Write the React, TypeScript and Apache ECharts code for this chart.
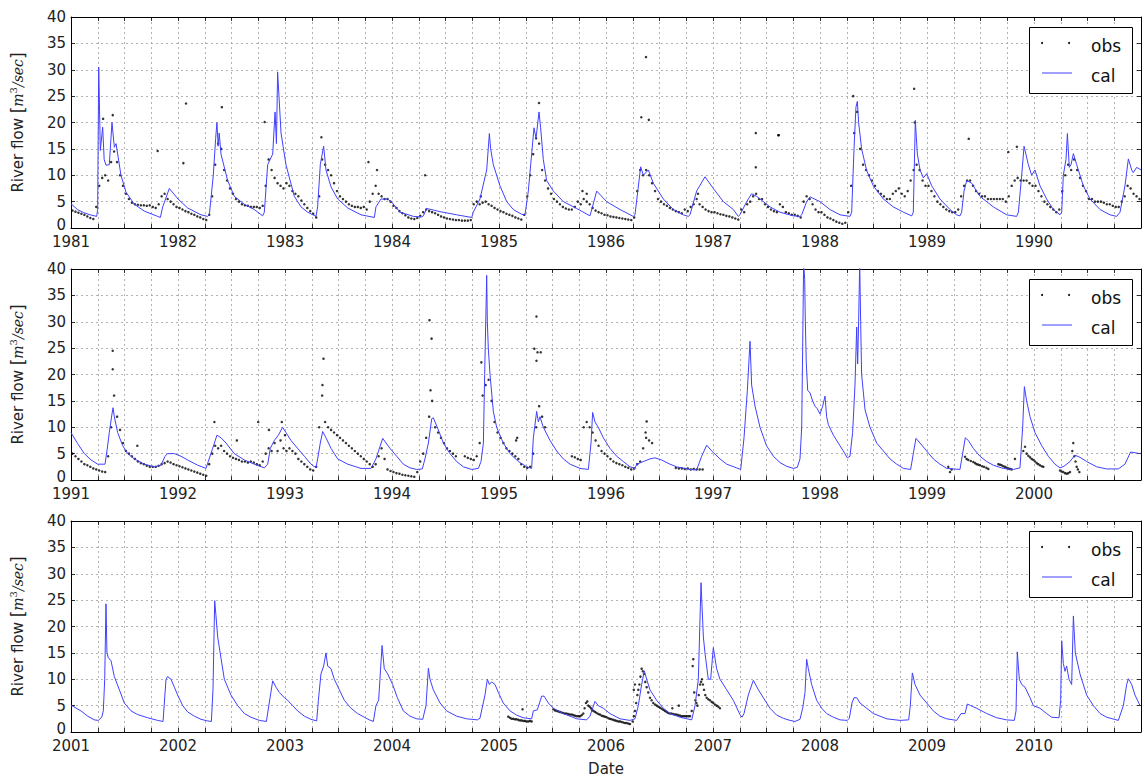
import React, { useEffect, useRef } from "react";
import * as echarts from "echarts";

// ---------------- data ----------------
const START_YEARS = [1981, 1991, 2001];
const Y_MIN = 0;
const Y_MAX = 40;
const Y_STEP = 5;
const X_STEP = 0.25; // quarter-year grid
const SERIES_NAMES = ["obs", "cal"];
const X_LABEL = "Date";

// simulated flow ("cal") — key points [decimal year, m3/s]
const cal1 = [
  [1981.0, 4.6], [1981.06, 3.5], [1981.12, 2.9], [1981.18, 2.5], [1981.24, 2.2], [1981.249, 3.5],
  [1981.259, 30.5], [1981.274, 14.7], [1981.296, 19.1], [1981.31, 13], [1981.327, 11.9], [1981.358, 12.0],
  [1981.383, 20.0], [1981.405, 15.3], [1981.421, 16.0], [1981.467, 10.0], [1981.514, 6.8], [1981.592, 4.5],
  [1981.685, 3.2], [1981.81, 2.2], [1981.835, 2.0], [1981.857, 4.0], [1981.919, 7.5], [1982.0, 5.5],
  [1982.09, 3.8], [1982.215, 2.5], [1982.277, 2.2], [1982.293, 2.5], [1982.33, 10], [1982.352, 17],
  [1982.364, 20.0], [1982.375, 15.5], [1982.385, 18], [1982.402, 14.0], [1982.464, 9.0], [1982.526, 6.0],
  [1982.62, 4.5], [1982.713, 3.5], [1982.791, 2.3], [1982.807, 3], [1982.838, 12], [1982.885, 14],
  [1982.907, 22], [1982.92, 16], [1982.931, 29.6], [1982.963, 18], [1983.009, 12], [1983.087, 6],
  [1983.15, 4], [1983.212, 3], [1983.29, 2.2], [1983.305, 4], [1983.33, 12], [1983.361, 15.5],
  [1983.383, 11], [1983.43, 7.8], [1983.492, 5.5], [1983.586, 3.8], [1983.71, 2.5], [1983.835, 2.0],
  [1983.85, 4.0], [1983.897, 5.5], [1983.96, 5.5], [1984.0, 4.8], [1984.075, 3.0], [1984.2, 2.2],
  [1984.277, 2.1], [1984.293, 2.3], [1984.324, 3.7], [1984.449, 3.1], [1984.604, 2.5], [1984.745, 2.0],
  [1984.76, 3.0], [1984.822, 5.5], [1984.885, 11], [1984.91, 17.9], [1984.922, 15], [1984.947, 12],
  [1985.009, 8], [1985.072, 5], [1985.134, 3.5], [1985.212, 2.6], [1985.243, 2.5], [1985.274, 7],
  [1985.296, 12], [1985.327, 19], [1985.346, 17], [1985.374, 22], [1985.389, 19], [1985.414, 13],
  [1985.445, 9], [1985.508, 7], [1985.601, 5], [1985.726, 3.7], [1985.85, 2.3], [1985.86, 3.0],
  [1985.913, 7], [1986.006, 5], [1986.131, 3.5], [1986.255, 2.2], [1986.271, 2.5], [1986.324, 11.6],
  [1986.349, 10], [1986.396, 11], [1986.442, 8.5], [1986.536, 5.5], [1986.629, 3.5], [1986.723, 2.5],
  [1986.769, 2.2], [1986.785, 2.5], [1986.847, 7], [1986.925, 9.7], [1987.003, 7.5], [1987.097, 5],
  [1987.19, 3.5], [1987.237, 2.2], [1987.252, 2.5], [1987.315, 5], [1987.361, 6.5], [1987.408, 6.0],
  [1987.439, 5.5], [1987.533, 4], [1987.626, 3], [1987.751, 2.3], [1987.813, 2.2], [1987.829, 2.5],
  [1987.875, 5], [1987.907, 5.9], [1988.0, 5], [1988.093, 3.5], [1988.187, 2.5], [1988.28, 2.2],
  [1988.296, 3], [1988.318, 15], [1988.336, 22.9], [1988.349, 24], [1988.361, 20], [1988.389, 15],
  [1988.436, 10.9], [1988.498, 8], [1988.592, 5.5], [1988.685, 4], [1988.779, 3], [1988.857, 2.3],
  [1988.872, 3], [1988.891, 20.4], [1988.91, 14], [1988.935, 11], [1988.966, 9.5], [1988.997, 10.3],
  [1989.044, 8], [1989.121, 5.5], [1989.215, 3.5], [1989.277, 2.5], [1989.308, 2.3], [1989.324, 3],
  [1989.346, 7], [1989.371, 9], [1989.417, 8.5], [1989.495, 6], [1989.62, 4], [1989.745, 2.5],
  [1989.838, 2.2], [1989.854, 3], [1989.885, 10], [1989.907, 15.5], [1989.947, 12], [1989.978, 10],
  [1990.009, 11], [1990.056, 8], [1990.118, 5.5], [1990.181, 3.5], [1990.243, 2.5], [1990.259, 3],
  [1990.274, 10], [1990.299, 13], [1990.312, 17.9], [1990.33, 11.5], [1990.346, 12], [1990.368, 14.1],
  [1990.399, 12], [1990.461, 8], [1990.523, 5.5], [1990.617, 3.5], [1990.71, 2.5], [1990.773, 2.2],
  [1990.804, 3], [1990.85, 8], [1990.882, 13.1], [1990.913, 11], [1990.928, 10.5], [1990.96, 11.5],
  [1991.0, 11],
];

const cal2 = [
  [1991.0, 9.0], [1991.062, 6.9], [1991.125, 5.0], [1991.187, 3.8], [1991.249, 3.0], [1991.318, 3.0],
  [1991.336, 5.5], [1991.358, 9], [1991.383, 12.5], [1991.393, 13.7], [1991.405, 12], [1991.436, 9],
  [1991.483, 6.5], [1991.53, 5.0], [1991.592, 4.0], [1991.685, 3.0], [1991.779, 2.5], [1991.841, 2.8],
  [1991.879, 4.5], [1991.903, 5.0], [1991.966, 5.0], [1992.028, 4.5], [1992.09, 3.8], [1992.184, 2.8],
  [1992.262, 2.2], [1992.283, 3.5], [1992.324, 6], [1992.364, 8.5], [1992.402, 8.0], [1992.449, 7.0],
  [1992.526, 5.0], [1992.62, 3.8], [1992.713, 3.0], [1992.807, 2.3], [1992.838, 3.0], [1992.863, 6],
  [1992.9, 7.5], [1992.938, 8.5], [1992.978, 10.0], [1993.009, 9.0], [1993.056, 7.5], [1993.118, 6.0],
  [1993.181, 4.5], [1993.243, 3.0], [1993.29, 2.3], [1993.305, 4], [1993.33, 7], [1993.352, 9.2],
  [1993.383, 8.0], [1993.43, 6.0], [1993.492, 4.0], [1993.586, 3.0], [1993.71, 2.2], [1993.804, 2.2],
  [1993.85, 4], [1993.913, 7.9], [1993.981, 6.0], [1994.044, 4.5], [1994.106, 3.0], [1994.168, 2.3],
  [1994.231, 2.0], [1994.283, 2.1], [1994.308, 4], [1994.34, 7], [1994.371, 11.6], [1994.386, 11.8],
  [1994.433, 9.5], [1994.48, 7.0], [1994.542, 5.0], [1994.604, 3.5], [1994.667, 2.5], [1994.745, 2.0],
  [1994.807, 2.2], [1994.832, 3.5], [1994.854, 7], [1994.866, 20], [1994.885, 38.8], [1994.891, 30],
  [1994.9, 25], [1994.916, 20], [1994.947, 13], [1994.978, 10], [1995.04, 7], [1995.103, 5],
  [1995.181, 3.5], [1995.259, 2.5], [1995.305, 2.2], [1995.321, 8], [1995.352, 13], [1995.368, 11],
  [1995.383, 12], [1995.414, 10], [1995.477, 7.5], [1995.539, 5.5], [1995.601, 4.0], [1995.664, 3.0],
  [1995.757, 2.2], [1995.835, 2.0], [1995.86, 7], [1995.875, 12.8], [1995.897, 11], [1995.928, 10],
  [1995.975, 8], [1996.037, 6], [1996.1, 4.5], [1996.162, 3.5], [1996.224, 2.5], [1996.271, 2.2],
  [1996.287, 3.0], [1996.349, 3.5], [1996.411, 4.0], [1996.458, 4.2], [1996.52, 3.8], [1996.598, 3.0],
  [1996.66, 2.5], [1996.785, 2.0], [1996.847, 1.9], [1996.894, 4.5], [1996.941, 6.6], [1996.988, 5.5],
  [1997.065, 4.0], [1997.128, 3.0], [1997.221, 2.3], [1997.259, 2.0], [1997.29, 8], [1997.321, 17],
  [1997.346, 26.3], [1997.361, 18], [1997.393, 14], [1997.439, 10], [1997.5, 6.5], [1997.564, 4.5],
  [1997.626, 3.3], [1997.688, 2.6], [1997.751, 2.2], [1997.788, 2.4], [1997.813, 4], [1997.829, 10],
  [1997.838, 25], [1997.847, 41], [1997.857, 38], [1997.863, 30], [1997.872, 22], [1997.885, 17],
  [1997.907, 16.5], [1997.931, 15], [1997.953, 14], [1997.975, 13.5], [1998.0, 12.5], [1998.025, 14],
  [1998.047, 15.9], [1998.062, 12], [1998.078, 10.5], [1998.125, 8.5], [1998.171, 7], [1998.218, 5.5],
  [1998.255, 4.2], [1998.28, 4.5], [1998.305, 9], [1998.327, 18], [1998.343, 29], [1998.352, 22],
  [1998.361, 30], [1998.371, 41], [1998.38, 30], [1998.389, 20], [1998.421, 13.3], [1998.467, 10],
  [1998.53, 7], [1998.592, 5.5], [1998.654, 4], [1998.717, 3.0], [1998.779, 2.2], [1998.847, 2.0],
  [1998.872, 5], [1998.897, 7.9], [1998.935, 7.0], [1998.997, 5.5], [1999.059, 4.0], [1999.121, 3.0],
  [1999.184, 2.2], [1999.308, 2.0], [1999.333, 5], [1999.358, 8], [1999.386, 7.5], [1999.433, 6],
  [1999.495, 4.5], [1999.558, 3.5], [1999.62, 2.8], [1999.713, 2.2], [1999.807, 2.0], [1999.869, 2.3],
  [1999.894, 10], [1999.91, 17.7], [1999.931, 15], [1999.963, 12], [2000.009, 9], [2000.072, 6.5],
  [2000.134, 4.5], [2000.196, 3.0], [2000.243, 2.3], [2000.28, 2.6], [2000.336, 3.5], [2000.383, 4.7],
  [2000.43, 4.3], [2000.492, 3.5], [2000.586, 2.5], [2000.679, 2.1], [2000.788, 2.1], [2000.85, 3],
  [2000.903, 5.3], [2000.991, 5.0],
];

const cal3 = [
  [2001.0, 5.0], [2001.016, 4.9], [2001.093, 4.0], [2001.156, 3.0], [2001.218, 2.3], [2001.255, 2.2],
  [2001.287, 2.8], [2001.302, 4.0], [2001.315, 10], [2001.327, 24.3], [2001.336, 15], [2001.349, 14.1],
  [2001.374, 13.5], [2001.405, 10.5], [2001.452, 8], [2001.498, 5.5], [2001.561, 4.0], [2001.623, 3.3],
  [2001.717, 2.7], [2001.81, 2.2], [2001.86, 2.0], [2001.888, 10.0], [2001.903, 10.5], [2001.935, 10.0],
  [2001.966, 8.5], [2001.997, 7.0], [2002.044, 5.0], [2002.09, 3.8], [2002.153, 3.0], [2002.215, 2.4],
  [2002.277, 2.1], [2002.312, 2.0], [2002.327, 8], [2002.343, 24.9], [2002.355, 22], [2002.371, 18],
  [2002.402, 14], [2002.433, 10], [2002.495, 7], [2002.558, 5], [2002.62, 3.5], [2002.682, 2.8],
  [2002.76, 2.2], [2002.826, 2.0], [2002.885, 9.7], [2002.916, 8.5], [2002.947, 7.5], [2002.994, 6.5],
  [2003.025, 6.0], [2003.072, 5.0], [2003.118, 4.0], [2003.181, 3.0], [2003.243, 2.4], [2003.296, 2.1],
  [2003.312, 6], [2003.336, 11], [2003.361, 12.5], [2003.383, 15], [2003.399, 12.5], [2003.43, 12],
  [2003.461, 10], [2003.508, 8], [2003.555, 6], [2003.617, 4.5], [2003.679, 3.5], [2003.741, 2.8],
  [2003.788, 2.3], [2003.826, 2.0], [2003.85, 5], [2003.875, 6], [2003.907, 16.4], [2003.928, 12],
  [2003.96, 11], [2004.006, 9], [2004.05, 6.5], [2004.106, 4.0], [2004.168, 3.0], [2004.231, 2.5],
  [2004.287, 2.4], [2004.318, 5], [2004.34, 12.1], [2004.355, 10], [2004.386, 8], [2004.449, 5.5],
  [2004.511, 4.0], [2004.604, 3.0], [2004.698, 2.5], [2004.798, 2.3], [2004.822, 2.6], [2004.869, 7],
  [2004.891, 10], [2004.91, 9], [2004.931, 9.5], [2004.963, 9], [2004.994, 7.5], [2005.04, 5.5],
  [2005.103, 4.0], [2005.165, 3.2], [2005.227, 2.7], [2005.305, 2.5], [2005.321, 4], [2005.358, 4.2],
  [2005.399, 6.8], [2005.421, 6.8], [2005.461, 5.5], [2005.508, 4.5], [2005.601, 3.5], [2005.726, 2.5],
  [2005.819, 2.3], [2005.85, 3], [2005.897, 5.8], [2005.928, 5], [2005.975, 4.5], [2006.037, 3.5],
  [2006.131, 2.5], [2006.224, 2.2], [2006.271, 2.5], [2006.302, 5], [2006.333, 9], [2006.358, 11.6],
  [2006.38, 10], [2006.411, 8], [2006.474, 6], [2006.536, 4.5], [2006.598, 3.5], [2006.692, 2.8],
  [2006.801, 2.3], [2006.832, 5], [2006.863, 10], [2006.888, 28.3], [2006.91, 18], [2006.925, 15],
  [2006.956, 10], [2006.978, 10], [2007.003, 16], [2007.034, 12], [2007.065, 10], [2007.128, 8],
  [2007.19, 6], [2007.252, 3.3], [2007.271, 2.8], [2007.29, 3.5], [2007.33, 7], [2007.377, 9.8],
  [2007.424, 8], [2007.486, 6], [2007.533, 4.5], [2007.595, 3.2], [2007.657, 2.6], [2007.72, 2.2],
  [2007.766, 2.0], [2007.813, 2.4], [2007.838, 4.5], [2007.86, 7.5], [2007.875, 13.8], [2007.891, 12],
  [2007.922, 9], [2007.969, 6], [2008.016, 4.5], [2008.062, 3.5], [2008.125, 2.8], [2008.187, 2.3],
  [2008.255, 2.2], [2008.274, 2.6], [2008.299, 5.5], [2008.318, 6.5], [2008.343, 6.5], [2008.374, 5.5],
  [2008.436, 4.5], [2008.498, 3.5], [2008.561, 3.0], [2008.623, 2.5], [2008.748, 2.2], [2008.829, 2.3],
  [2008.844, 5], [2008.863, 11.2], [2008.888, 9], [2008.935, 7], [2008.997, 5.5], [2009.059, 4.0],
  [2009.121, 3.0], [2009.184, 2.5], [2009.277, 2.2], [2009.318, 3.5], [2009.355, 3.5], [2009.377, 5.3],
  [2009.408, 5], [2009.464, 4.5], [2009.558, 3.5], [2009.651, 2.7], [2009.745, 2.3], [2009.816, 2.2],
  [2009.832, 4], [2009.844, 15.2], [2009.863, 10], [2009.885, 9], [2009.916, 8.5], [2009.963, 6.5],
  [2009.994, 5], [2010.056, 4.5], [2010.118, 3.5], [2010.165, 2.8], [2010.234, 2.7], [2010.249, 6],
  [2010.259, 17.3], [2010.274, 13], [2010.29, 11.5], [2010.305, 12.5], [2010.327, 10], [2010.352, 9],
  [2010.368, 22], [2010.386, 15], [2010.43, 11], [2010.492, 7], [2010.555, 5], [2010.617, 3.5],
  [2010.679, 2.8], [2010.788, 2.2], [2010.835, 5], [2010.866, 9], [2010.882, 10.1], [2010.913, 9],
  [2010.944, 7], [2010.991, 5],
];

// observed flow ("obs") — 36 readings per year (about every 10 days), null = no record
const obs1981 = [3.3, 3.1, 2.9, 2.7, 2.5, 2.2, 1.9, 1.7, 4, 8, 9.5, 10, 9, 12.5, 14.5, 12.5, 10, 8, 6.5, 5.5, 4.8, 4.5, 4.4, 4.3, 4.3, 4.2, 4.3, 4.0, 3.8, 4.5, 6.0, 6.5, 5.5, 5.0, 4.5, 4.0];
const obs1982 = [3.8, 3.5, 3.2, 3.0, 2.7, 2.5, 2.2, 2.0, 1.7, 1.5, 2.5, 6, 12, 16, 15, 11, 9, 7.5, 6.5, 5.5, 5, 4.5, 4.3, 4.2, 4, 4, 4, 3.8, 4.2, 8, 13, 11, 9.5, 8.5, 8, 7.5];
const obs1983 = [8.5, 8, 7, 6.5, 6, 5.2, 4.5, 3.8, 3.2, 2.7, 2, 6, 13, 12, 11, 10, 8.5, 7, 6, 5.5, 5, 4.5, 4.2, 4, 4, 3.8, 4, 3.5, 5, 6.5, 8, 6.5, 6, 5.5, 5.5, 5];
const obs1984 = [4.2, 3.8, 3.2, 2.8, 2.4, 2.0, 1.8, 1.7, 1.9, 2.3, 3.0, 3.5, 3.2, 3.0, 2.8, 2.5, 2.2, 2.0, 1.8, 1.7, 1.6, 1.5, 1.5, 1.4, 1.4, 1.4, 1.5, 4.5, 5, 4.5, 4.8, 5, 4.5, 4.2, 3.8, 3.5];
const obs1985 = [3.2, 3.0, 2.7, 2.5, 2.3, 2.0, 1.8, 1.6, 2.5, 6, 10, 14, 17, 16, 11, 9, 7.5, 6.5, 5.5, 5, 4.5, 4, 3.7, 3.5, 3.5, 4, 5, 4.5, 5.5, 5, 4.5, 3.8, 3.3, 3.0, 2.8, 2.5];
const obs1986 = [2.4, 2.2, 2.1, 2.0, 1.9, 1.8, 1.7, 1.6, 1.5, 2.0, 7, 11, 10, 11, 10, 8.5, 7, 5.5, 5, 4.5, 4.2, 3.8, 3.5, 3.2, 3, 2.8, 3.5, 3.2, 4, 4.5, 5.5, 4.5, 4.0, 3.5, 3.2, 3.0];
const obs1987 = [3.0, 2.8, 2.6, 2.5, 2.3, 2.2, 2.0, 1.8, 1.6, 3.5, 3, 4.5, 5, 6, 6.5, 5.5, 5.5, 4.5, 4, 3.5, 3.2, 3.0, 4.5, 4, 3, 2.8, 2.5, 2.5, 2.3, 2.0, 5, 6, 5.5, 4.5, 3.5, 3];
const obs1988 = [3.0, 2.5, 2.0, 1.8, 1.5, 1.2, 1.0, 0.8, 1.0, 3, 8, 18, 22, 15, 12, 11, 10, 9, 8, 7, 6.5, 6.0, 5.5, 5.5, 6.5, 7, 7.5, 6.5, 6, 7, 9, 11, 12, 11, 9, 8];
const obs1989 = [8, 7, 6, 5, 4.5, 4, 3.5, 3.2, 3.0, 3.0, 3.5, 6, 8, 9, 9, 8, 7, 6.5, 6, 6, 5.5, 5.5, 5.5, 5.5, 5.5, 5.5, 5, 6, 8, 9, 9.5, 9, 9, 9, 8.5, 8];
const obs1990 = [8, 7, 6, 5, 4.5, 4, 3.5, 3.0, 3.5, 7, 10, 12, 11, 13, 11, 9.5, 8, 7, 5.5, 5.5, 5, 5, 5, 4.8, 4.5, 4.5, 4.2, 4.0, 4.0, 5, 6, 8, 7.5, 6.5, 6.0, 5.5];
const obs1991 = [5.0, 4.5, 4.0, 3.5, 3.0, 2.8, 2.5, 2.2, 2.0, 1.8, 1.6, 1.5, 4.5, 10, 16, 12, 9.5, 7, 5.5, 5, 4.5, 4.0, 3.5, 3.2, 3.0, 2.7, 2.5, 2.5, 2.5, 2.7, 3.0, 3.2, 3.5, 3.3, 3.0, 2.8];
const obs1992 = [2.6, 2.4, 2.2, 2.0, 1.8, 1.6, 1.4, 1.2, 1.0, 0.8, 3, 5, 6.5, 6, 6.5, 5.5, 5, 4.5, 4.2, 4, 3.8, 3.5, 3.5, 3.3, 3.5, 3.3, 3.0, 2.8, 3.5, 5, 6, 5.5, 7, 5.5, 7.5, 6];
const obs1993 = [5.5, 6, 5.5, 5, 4, 3.5, 3, 2.5, 2.0, 1.8, 2.5, 10, 16, 11, 10, 9.5, 9, 8.5, 8, 7.5, 7, 6.5, 6, 5.5, 5, 4.5, 4, 3.5, 3.0, 2.5, 3.0, 4.5, 6, 4, 2, 1.7];
const obs1994 = [1.5, 1.3, 1.2, 1.0, 0.9, 0.8, 0.7, 0.6, 1.5, 3.5, 5, 8, 12, 15, 10, 9, 8, 7, 6, 5.5, 5, 4.5, null, null, 4.5, 4.2, 4.0, 3.8, 4.5, 7, 16, 18, 19, 15, 11, 9];
const obs1995 = [8, 7, 6, 5.5, 5, 4.5, 4, 3, 2.5, 2.3, 2.5, 5, 10, 14, 12, 10, null, null, null, null, null, null, null, null, 4.5, 4.3, 4.0, 3.8, 10, 11, 10, 9, 7.5, 6.5, 5.5, 5.0];
const obs1996 = [4.5, 4, 3.5, 3.2, 3.0, 2.8, 2.5, 2.3, 2.0, 2.2, 3, 3.5, 6, 8, 7.5, 7, null, null, null, null, null, null, null, 2.3, 2.2, 2.2, 2.1, 2.2, 2.0, 2.1, 2.0, 2.0, 2.0, null, null, null];

// sparse observed records [decimal year, m3/s]
const obsLate2 = [
  [1999.199, 2.5], [1999.215, 1.5], [1999.23, 2.0], [1999.355, 4.4], [1999.37, 4.0], [1999.386, 3.8],
  [1999.41, 3.6], [1999.433, 3.4], [1999.45, 3.2], [1999.464, 3.0], [1999.48, 2.9], [1999.495, 2.8],
  [1999.515, 2.6], [1999.533, 2.5], [1999.555, 2.3], [1999.573, 2.1], [1999.667, 3.0], [1999.683, 2.9],
  [1999.698, 2.8], [1999.713, 2.6], [1999.729, 2.5], [1999.745, 2.3], [1999.76, 2.2], [1999.775, 2.1],
  [1999.791, 2.0], [1999.822, 4.0], [1999.9, 5.5], [1999.916, 6.3], [1999.931, 5], [1999.947, 4.6],
  [1999.963, 4.3], [1999.978, 4.0], [1999.994, 3.8], [2000.01, 3.5], [2000.025, 3.2], [2000.04, 3.0],
  [2000.056, 2.8], [2000.072, 2.6], [2000.087, 2.5], [2000.243, 1.8], [2000.258, 1.6], [2000.274, 1.5],
  [2000.29, 1.3], [2000.305, 1.2], [2000.32, 1.3], [2000.336, 1.5], [2000.358, 5.5], [2000.367, 7.0],
  [2000.377, 4.5], [2000.388, 3.5], [2000.399, 2.5], [2000.41, 2.0], [2000.424, 1.5],
];
const obs3 = [
  [2005.087, 2.9], [2005.103, 2.7], [2005.118, 2.5], [2005.134, 2.5], [2005.15, 2.4], [2005.165, 2.4],
  [2005.181, 2.3], [2005.197, 2.2], [2005.212, 2.2], [2005.228, 2.1], [2005.243, 2.1], [2005.258, 2.0],
  [2005.274, 2.0], [2005.29, 2.1], [2005.305, 2.0], [2005.508, 4.3], [2005.523, 4.1], [2005.539, 4.0],
  [2005.555, 3.9], [2005.57, 3.8], [2005.586, 3.7], [2005.601, 3.6], [2005.617, 3.5], [2005.632, 3.5],
  [2005.648, 3.4], [2005.664, 3.3], [2005.68, 3.3], [2005.695, 3.2], [2005.71, 3.1], [2005.726, 3.0],
  [2005.742, 3.0], [2005.757, 3.0], [2005.773, 3.2], [2005.788, 3.5], [2005.8, 4.5], [2005.813, 5.5],
  [2005.825, 5.8], [2005.835, 5.0], [2005.848, 4.8], [2005.86, 4.5], [2005.87, 4.2], [2005.882, 4.0],
  [2005.898, 3.8], [2005.913, 3.6], [2005.929, 3.4], [2005.944, 3.3], [2005.96, 3.1], [2005.975, 3.0],
  [2005.99, 2.9], [2006.006, 2.8], [2006.022, 2.6], [2006.037, 2.5], [2006.053, 2.4], [2006.069, 2.3],
  [2006.085, 2.2], [2006.1, 2.1], [2006.116, 2.0], [2006.131, 2.0], [2006.147, 1.9], [2006.162, 1.8],
  [2006.178, 1.7], [2006.193, 1.7], [2006.209, 1.6], [2006.224, 1.5], [2006.249, 2], [2006.26, 3.0],
  [2006.271, 4], [2006.282, 5.5], [2006.293, 7], [2006.302, 8], [2006.312, 9], [2006.322, 10.5],
  [2006.333, 12], [2006.344, 11.5], [2006.355, 11], [2006.367, 9.5], [2006.38, 8.5], [2006.395, 7.5],
  [2006.411, 6.5], [2006.426, 6.0], [2006.442, 5.5], [2006.458, 5.2], [2006.474, 5.0], [2006.49, 4.8],
  [2006.505, 4.6], [2006.52, 4.4], [2006.536, 4.2], [2006.551, 4.0], [2006.567, 3.8], [2006.582, 3.6],
  [2006.598, 3.5], [2006.613, 3.5], [2006.629, 3.4], [2006.645, 3.3], [2006.66, 3.3], [2006.676, 3.2],
  [2006.692, 3.1], [2006.708, 3.0], [2006.723, 3.0], [2006.739, 3.0], [2006.754, 3.0], [2006.77, 3.0],
  [2006.785, 3.0], [2006.801, 4], [2006.816, 13.8], [2006.825, 7.5], [2006.835, 6], [2006.845, 5.5],
  [2006.854, 5], [2006.867, 7], [2006.879, 9], [2006.888, 9.5], [2006.897, 10], [2006.906, 9],
  [2006.916, 8], [2006.928, 7], [2006.941, 6.5], [2006.956, 6.2], [2006.972, 6], [2006.988, 5.7],
  [2007.003, 5.5], [2007.018, 5.2], [2007.034, 5], [2007.05, 4.8], [2007.065, 4.5],
];

// scattered single observations [decimal year, m3/s]
const outliers1 = [
  [1981.3, 20.7], [1981.39, 21.4], [1981.81, 14.6], [1982.05, 12.3], [1982.075, 23.6], [1982.41, 22.9],
  [1982.81, 20.1], [1983.34, 17.2], [1983.78, 12.5], [1983.86, 11], [1984.31, 10], [1985.374, 23.7],
  [1986.374, 32.4], [1986.33, 21], [1986.4, 20.5], [1987.4, 18], [1987.4, 11.5], [1987.61, 17.6],
  [1987.615, 17.6], [1988.88, 26.4], [1988.885, 20], [1988.31, 25], [1989.39, 16.9], [1989.76, 14.4],
  [1989.84, 15.4], [1985.78, 7], [1985.82, 6.5], [1984.83, 6], [1986.86, 6.5],
];
const outliers2 = [
  [1991.39, 21], [1991.39, 24.5], [1991.62, 6.5], [1992.34, 11], [1992.55, 7.5], [1993.36, 23],
  [1993.35, 18], [1994.35, 30.3], [1994.37, 26.8], [1994.36, 17], [1994.835, 22.3], [1995.35, 31],
  [1995.33, 24.9], [1995.36, 24.2], [1995.39, 24.2], [1995.35, 22.6], [1995.17, 8], [1995.16, 7.5],
  [1996.38, 11.1], [1996.37, 9], [1992.75, 11], [1992.97, 11], [1992.85, 9.5], [1993.0, 8.5],
];
const outliers3 = [[2006.27, 9], [2006.26, 8], [2006.62, 4.5], [2006.68, 5], [2005.22, 4.3], [2006.81, 12.5]];

const obsYears1 = [[1981, obs1981], [1982, obs1982], [1983, obs1983], [1984, obs1984], [1985, obs1985], [1986, obs1986], [1987, obs1987], [1988, obs1988], [1989, obs1989], [1990, obs1990]];
const obsYears2 = [[1991, obs1991], [1992, obs1992], [1993, obs1993], [1994, obs1994], [1995, obs1995], [1996, obs1996]];

// ---------------- helpers ----------------
function expandYears(list: any[]) {
  const out: number[][] = [];
  list.forEach(([yr, arr]: [number, (number | null)[]]) => {
    const n = arr.length;
    arr.forEach((v, i) => {
      if (v !== null) out.push([yr + (i + 0.5) / n, v]);
    });
  });
  return out;
}

const obsData = [
  [...expandYears(obsYears1), ...outliers1],
  [...expandYears(obsYears2), ...obsLate2, ...outliers2],
  [...obs3, ...outliers3],
];
const calData = [cal1, cal2, cal3];

// ---------------- layout ----------------
const W = 1145;
const H = 778;
const PLOT_LEFT = 70;
const PLOT_WIDTH = 1071;
const PLOT_HEIGHT = 211;
const PANEL_TOPS = [17, 269, 521];
const FONT = "DejaVu Sans";
const TEXT_COLOR = "#222";
const CAL_COLOR = "#4040ff";

function buildOption() {
  const grid = PANEL_TOPS.map((t) => ({ left: PLOT_LEFT, top: t, width: PLOT_WIDTH, height: PLOT_HEIGHT }));
  const xAxis: any[] = [];
  const yAxis: any[] = [];
  const series: any[] = [];
  const graphic: any[] = [];
  const gridLine = { show: true, lineStyle: { color: "#a0a0a0", width: 0.8, type: [2, 3] } };

  START_YEARS.forEach((sy, i) => {
    const baseX = {
      type: "value",
      gridIndex: i,
      min: sy,
      max: sy + 10,
      interval: X_STEP,
      axisLine: { show: true, onZero: false, lineStyle: { color: "#000", width: 1 } },
      axisTick: { show: true, inside: true, length: 4, lineStyle: { color: "#000", width: 0.8 } },
    };
    xAxis.push({
      ...baseX,
      position: "bottom",
      splitLine: gridLine,
      axisLabel: {
        show: true,
        showMaxLabel: false,
        margin: 8,
        lineHeight: 12,
        color: TEXT_COLOR,
        fontSize: 15,
        fontFamily: FONT,
        formatter: (v: number) => (Math.abs(v - Math.round(v)) < 1e-6 ? String(Math.round(v)) : ""),
      },
      ...(i === 2
        ? {
            name: X_LABEL,
            nameLocation: "middle",
            nameGap: 29,
            nameTextStyle: { color: TEXT_COLOR, fontSize: 15, fontFamily: FONT },
          }
        : {}),
    });
    xAxis.push({ ...baseX, position: "top", splitLine: { show: false }, axisLabel: { show: false } });

    const baseY = {
      type: "value",
      gridIndex: i,
      min: Y_MIN,
      max: Y_MAX,
      interval: Y_STEP,
      axisLine: { show: true, onZero: false, lineStyle: { color: "#000", width: 1 } },
      axisTick: { show: true, inside: true, length: 4, lineStyle: { color: "#000", width: 0.8 } },
    };
    yAxis.push({
      ...baseY,
      position: "left",
      splitLine: gridLine,
      axisLabel: {
        show: true,
        margin: 5,
        lineHeight: 12,
        color: TEXT_COLOR,
        fontSize: 15,
        fontFamily: FONT,
        formatter: (v: number) => (v === Y_MIN ? "{z|" + v + "}" : String(v)),
        rich: { z: { fontSize: 15, fontFamily: FONT, color: TEXT_COLOR, lineHeight: 12, padding: [0, 0, 6, 0] } },
      },
      name: "{a|River flow }{b|[}{m|m}{s|3}{m|/sec}{b|]}",
      nameLocation: "middle",
      nameRotate: 90,
      nameGap: 43,
      nameTextStyle: {
        color: TEXT_COLOR,
        rich: {
          a: { fontSize: 15, fontFamily: FONT, color: TEXT_COLOR, lineHeight: 20 },
          b: { fontSize: 17, fontFamily: FONT, color: TEXT_COLOR, lineHeight: 20 },
          m: { fontSize: 14, fontFamily: "DejaVu Serif", fontStyle: "italic", color: TEXT_COLOR, lineHeight: 20 },
          s: { fontSize: 10, fontFamily: "DejaVu Serif", color: TEXT_COLOR, verticalAlign: "top", lineHeight: 12 },
        },
      },
    });
    yAxis.push({ ...baseY, position: "right", splitLine: { show: false }, axisLabel: { show: false } });

    series.push({
      name: SERIES_NAMES[0],
      type: "scatter",
      xAxisIndex: 2 * i,
      yAxisIndex: 2 * i,
      data: obsData[i],
      symbol: "circle",
      symbolSize: 2.5,
      itemStyle: { color: "#000" },
      silent: true,
      z: 2,
    });
    series.push({
      name: SERIES_NAMES[1],
      type: "line",
      xAxisIndex: 2 * i,
      yAxisIndex: 2 * i,
      data: calData[i],
      showSymbol: false,
      symbol: "none",
      clip: true,
      lineStyle: { color: CAL_COLOR, width: 1 },
      silent: true,
      z: 3,
    });

    const t = PANEL_TOPS[i];
    graphic.push({
      type: "group",
      z: 100,
      children: [
        { type: "rect", z: 100, shape: { x: 1029.5, y: t + 10.5, width: 103, height: 66 }, style: { fill: "#fff", stroke: "#000", lineWidth: 1 } },
        { type: "circle", z: 101, shape: { cx: 1042, cy: t + 26, r: 1 }, style: { fill: "#000" } },
        { type: "circle", z: 101, shape: { cx: 1069, cy: t + 26, r: 1 }, style: { fill: "#000" } },
        { type: "line", z: 101, shape: { x1: 1042, y1: t + 56, x2: 1072, y2: t + 56 }, style: { stroke: CAL_COLOR, lineWidth: 1 } },
        { type: "text", z: 101, x: 1091, y: t + 29, style: { text: SERIES_NAMES[0], fontSize: 17, fontFamily: FONT, fill: "#111", verticalAlign: "middle" } },
        { type: "text", z: 101, x: 1091, y: t + 59, style: { text: SERIES_NAMES[1], fontSize: 17, fontFamily: FONT, fill: "#111", verticalAlign: "middle" } },
      ],
    });
  });

  return {
    animation: false,
    backgroundColor: "#fff",
    textStyle: { fontFamily: FONT },
    grid,
    xAxis,
    yAxis,
    series,
    graphic,
  };
}

export default function App() {
  const ref = useRef<HTMLDivElement>(null);
  useEffect(() => {
    if (!ref.current) return;
    const chart = echarts.init(ref.current, undefined, { renderer: "svg" });
    chart.setOption(buildOption() as any);
    return () => chart.dispose();
  }, []);
  return <div ref={ref} style={{ position: "fixed", left: 0, top: 0, width: W, height: H, background: "#fff" }} />;
}
